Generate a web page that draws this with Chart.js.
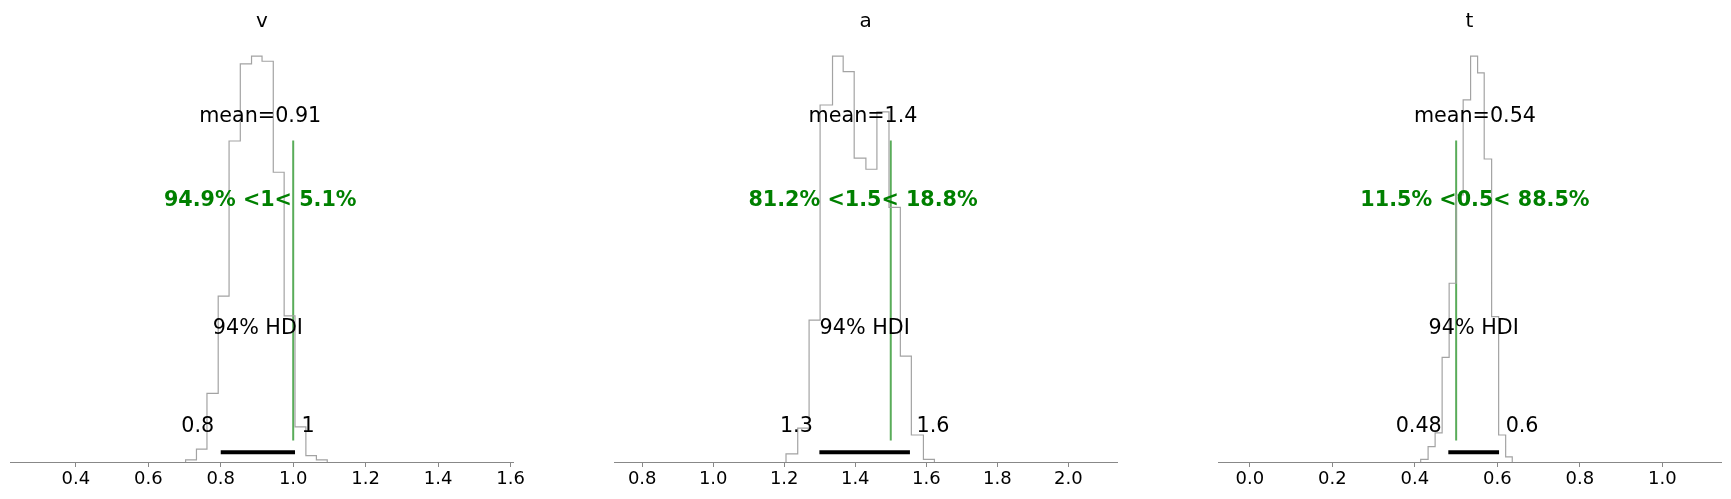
<!DOCTYPE html>
<html>
<head>
<meta charset="utf-8">
<script src="https://cdn.jsdelivr.net/npm/chart.js@4.4.1/dist/chart.umd.min.js"></script>
<style>
  html, body { margin: 0; padding: 0; background: #fff; }
  #wrap { position: relative; width: 1731px; height: 499px; }
  canvas { position: absolute; top: 0; }
</style>
</head>
<body>
<div id="wrap">
  <canvas id="c0"></canvas>
  <canvas id="c1"></canvas>
  <canvas id="c2"></canvas>
</div>
<script>
/* ===============================
   DATA
================================= */
const NAMES = ["v", "a", "t"];

// histogram bin edges and heights (share of the axis height)
const V_EDGES = [0.703, 0.733, 0.762, 0.793, 0.823, 0.854, 0.885, 0.914, 0.945, 0.975, 1.005, 1.035, 1.064, 1.094];
const V_HEIGHTS = [0.005, 0.030, 0.160, 0.387, 0.749, 0.929, 0.947, 0.935, 0.676, 0.341, 0.082, 0.015, 0.005];

const A_EDGES = [1.205, 1.238, 1.270, 1.301, 1.336, 1.366, 1.397, 1.430, 1.461, 1.495, 1.527, 1.558, 1.592, 1.623];
const A_HEIGHTS = [0.019, 0.079, 0.331, 0.833, 0.947, 0.911, 0.709, 0.683, 0.817, 0.594, 0.247, 0.063, 0.006];

const T_EDGES = [0.414, 0.432, 0.449, 0.466, 0.483, 0.500, 0.517, 0.535, 0.552, 0.568, 0.586, 0.603, 0.620, 0.636];
const T_HEIGHTS = [0.006, 0.036, 0.068, 0.244, 0.417, 0.623, 0.845, 0.947, 0.908, 0.707, 0.339, 0.063, 0.012];

const V_TICKS = [0.4, 0.6, 0.8, 1.0, 1.2, 1.4, 1.6];
const A_TICKS = [0.8, 1.0, 1.2, 1.4, 1.6, 1.8, 2.0];
const T_TICKS = [0.0, 0.2, 0.4, 0.6, 0.8, 1.0];

const X_RANGES = [[0.2195, 1.608], [0.7206, 2.1377], [-0.0773, 1.142]];

const MEANS = [0.909, 1.422, 0.5456];
const MEAN_LABELS = ["mean=0.91", "mean=1.4", "mean=0.54"];
const REF_VALS = [1.0, 1.5, 0.5];
const REF_LABELS = ["94.9% <1< 5.1%", "81.2% <1.5< 18.8%", "11.5% <0.5< 88.5%"];
const HDI = [[0.80, 1.005], [1.299, 1.554], [0.481, 0.604]];
const HDI_LABELS = [["0.8", "1"], ["1.3", "1.6"], ["0.48", "0.6"]];

/* ===============================
   TEXT PLUGIN
================================= */
const notas = {
    id: "notas",
    afterDatasetsDraw(chart, args, opts) {
        let ctx = chart.ctx;
        let xs = chart.scales.x;
        let ys = chart.scales.y;
        ctx.save();
        ctx.textBaseline = "middle";
        opts.items.forEach(t => {
            ctx.font = (t.bold ? "bold " : "") + "20.7px 'DejaVu Sans'";
            ctx.fillStyle = t.color || "#000000";
            ctx.textAlign = t.align || "center";
            ctx.fillText(t.text, xs.getPixelForValue(t.x), ys.getPixelForValue(t.y));
        });
        ctx.restore();
    }
};

/* ===============================
   ONE PANEL
================================= */
function panel(i, box, edges, heights, ticks) {
    let canvas = document.getElementById("c" + i);
    canvas.width = box.width;
    canvas.height = 499;
    canvas.style.left = box.left + "px";

    // step outline of the histogram
    let pasos = [{ x: edges[0], y: 0 }];
    heights.forEach((h, k) => pasos.push({ x: edges[k], y: h }));
    pasos.push({ x: edges[edges.length - 1], y: 0 });

    let hdi = HDI[i];
    let media = (hdi[0] + hdi[1]) / 2;

    new Chart(canvas.getContext("2d"), {
        type: "line",
        data: {
            datasets: [
                {
                    data: pasos,
                    stepped: true,
                    borderColor: "#a3a3a3",
                    borderWidth: 1.2,
                    pointRadius: 0,
                    fill: false
                },
                {
                    data: [{ x: REF_VALS[i], y: 0.05 }, { x: REF_VALS[i], y: 0.75 }],
                    borderColor: "rgba(0,128,0,0.65)",
                    borderWidth: 2,
                    pointRadius: 0
                },
                {
                    data: [{ x: hdi[0], y: 0.023 }, { x: hdi[1], y: 0.023 }],
                    borderColor: "#000000",
                    borderWidth: 4,
                    borderCapStyle: "butt",
                    pointRadius: 0
                }
            ]
        },
        options: {
            responsive: false,
            animation: false,
            layout: { padding: { left: box.padL, right: box.padR, top: 0.4, bottom: 0 } },
            plugins: {
                legend: { display: false },
                tooltip: { enabled: false },
                title: {
                    display: true,
                    text: NAMES[i],
                    fullSize: false,
                    color: "#000000",
                    font: { family: "'DejaVu Sans'", size: 20, weight: "normal" },
                    padding: { top: 9, bottom: 0 }
                },
                notas: {
                    items: [
                        { text: MEAN_LABELS[i], x: MEANS[i], y: 0.807 },
                        { text: REF_LABELS[i], x: MEANS[i], y: 0.611, bold: true, color: "#008000" },
                        { text: "94% HDI", x: media, y: 0.312 },
                        { text: HDI_LABELS[i][0] + " ", x: hdi[0], y: 0.082, align: "right" },
                        { text: " " + HDI_LABELS[i][1], x: hdi[1], y: 0.082, align: "left" }
                    ]
                }
            },
            scales: {
                x: {
                    type: "linear",
                    min: X_RANGES[i][0],
                    max: X_RANGES[i][1],
                    afterBuildTicks: s => { s.ticks = ticks.map(v => ({ value: v })); },
                    afterFit: s => { s.height = 37; },
                    ticks: {
                        color: "#000000",
                        padding: 2,
                        font: { family: "'DejaVu Sans'", size: 18 },
                        callback: v => Number(v).toFixed(1)
                    },
                    grid: {
                        drawOnChartArea: false,
                        drawTicks: true,
                        tickLength: 5,
                        tickColor: "#888888"
                    },
                    border: { display: true, color: "#888888", width: 1 }
                },
                y: {
                    display: false,
                    min: 0,
                    max: 1
                }
            }
        },
        plugins: [notas]
    });
}

panel(0, { left: 0, width: 560, padL: 10.4, padR: 46.5 }, V_EDGES, V_HEIGHTS, V_TICKS);
panel(1, { left: 560, width: 605, padL: 54, padR: 47.8 }, A_EDGES, A_HEIGHTS, A_TICKS);
panel(2, { left: 1165, width: 566, padL: 53, padR: 10 }, T_EDGES, T_HEIGHTS, T_TICKS);
</script>
</body>
</html>
